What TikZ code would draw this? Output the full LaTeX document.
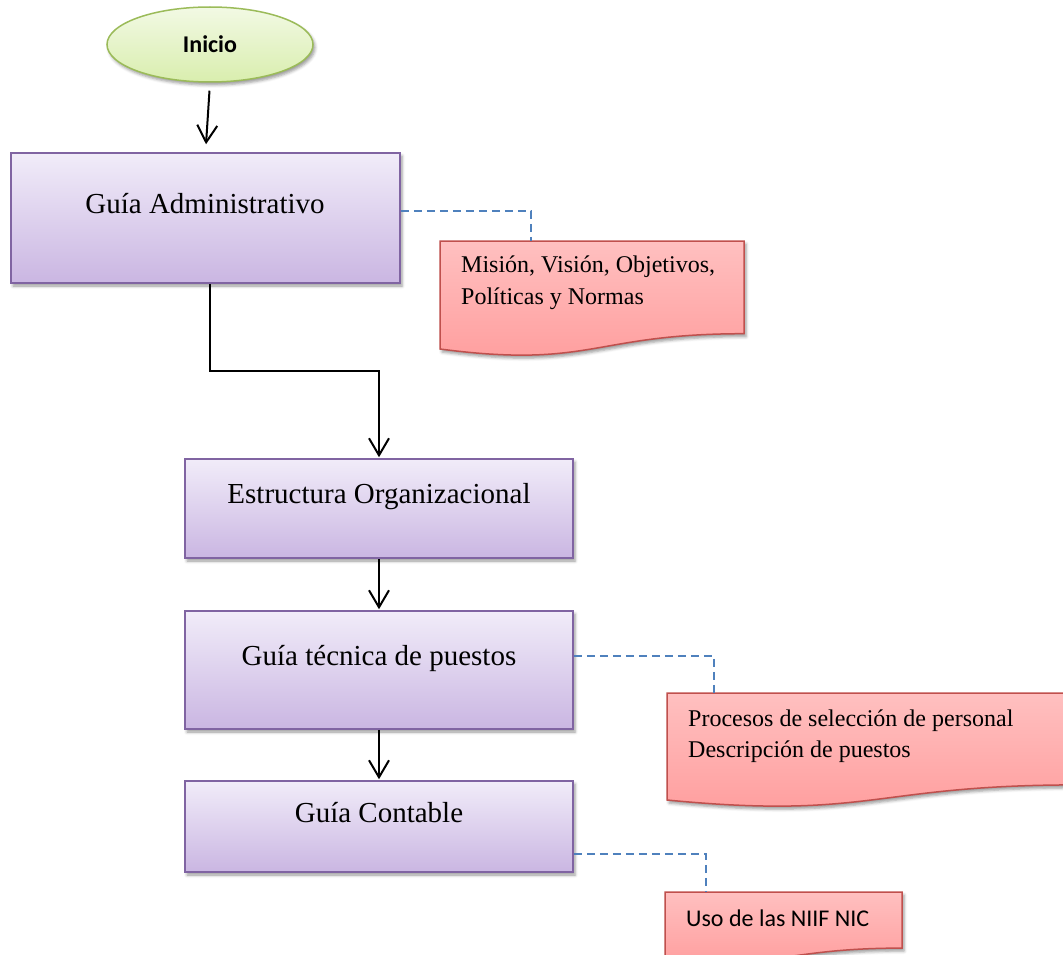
\documentclass[tikz,border=0pt]{standalone}
\usepackage{fontspec}
\setmainfont{Liberation Serif}
\newfontfamily\calibri{Carlito}
\usetikzlibrary{arrows.meta,shapes.geometric,shadows.blur}

\definecolor{boxtop}{HTML}{F1ECF9}
\definecolor{boxbot}{HTML}{CAB6E2}
\definecolor{boxline}{HTML}{8064A2}
\definecolor{doctop}{HTML}{FFC0C0}
\definecolor{docbot}{HTML}{FF9C9C}
\definecolor{docline}{HTML}{C0504D}
\definecolor{starttop}{HTML}{F2F9E4}
\definecolor{startbot}{HTML}{D9EEAE}
\definecolor{startline}{HTML}{9BBB59}
\definecolor{linkblue}{HTML}{4F81BD}

\begin{document}
\begin{tikzpicture}[x=1pt,y=-1pt,
  softshadow/.style={blur shadow={shadow xshift=2pt,shadow yshift=-3pt,
      shadow blur radius=3pt,shadow opacity=40}},
  stepbox/.style={draw=boxline,line width=1.5pt,top color=boxtop,
      bottom color=boxbot,inner sep=0pt,softshadow},
  boxtext/.style={font=\fontsize{29}{35}\selectfont,inner sep=0pt},
  doctext/.style={font=\fontsize{24}{32}\selectfont,inner sep=0pt,anchor=base west},
  docshape/.style={draw=docline,line width=1.5pt,top color=doctop,
      bottom color=docbot,softshadow},
  startshape/.style={ellipse,draw=startline,line width=1.5pt,top color=starttop,
      bottom color=startbot,inner sep=0pt,softshadow,
      font=\calibri\bfseries\fontsize{24}{29}\selectfont},
  flow/.style={line width=2pt,-{Straight Barb[length=17pt,width=20pt,line width=2pt]},
      shorten >=1pt},
  note/.style={draw=linkblue,line width=1.5pt,dash pattern=on 8pt off 5pt}
]
\useasboundingbox (0,0) rectangle (1063,955);
\clip (0,0) rectangle (1063,955);

% start terminal
\node[startshape,minimum width=206pt,minimum height=75pt] (inicio) at (210,44.5) {Inicio};

% process boxes
\node[stepbox,minimum width=389pt,minimum height=130pt] (box1) at (205.5,218) {};
\node[boxtext,anchor=base] (t1) at (205,213) {Guía Administrativo};

\node[stepbox,minimum width=388pt,minimum height=99pt] (box2) at (379,508.5) {};
\node[boxtext,anchor=base] (t2) at (379,503) {Estructura Organizacional};

\node[stepbox,minimum width=388pt,minimum height=118pt] (box3) at (379,670) {};
\node[boxtext,anchor=base] (t3) at (379,665) {Guía técnica de puestos};

\node[stepbox,minimum width=388pt,minimum height=91pt] (box4) at (379,826.5) {};
\node[boxtext,anchor=base] (t4) at (379,822) {Guía Contable};

% document notes
\path[docshape] (440,241) -- (744,241) -- (744,333.7)
  .. controls (592,333.7) and (592,369) .. (440,349) -- cycle;
\coordinate (d1) at (531,241);
\node[doctext] (n1a) at (461,272) {Misión, Visión, Objetivos,};
\node[doctext] (n1b) at (461,304) {Políticas y Normas};

\path[docshape] (667,693) -- (1077,693) -- (1077,784.9)
  .. controls (872,784.9) and (872,819.9) .. (667,800) -- cycle;
\coordinate (d2) at (714,693);
\node[doctext] (n2a) at (688,726) {Procesos de selección de personal};
\node[doctext] (n2b) at (688,757) {Descripción de puestos};

\path[docshape] (665,892) -- (902,892) -- (902,948.1)
  .. controls (783.5,948.1) and (783.5,969.5) .. (665,957.4) -- cycle;
\coordinate (d3) at (706,892);
\node[doctext,font=\calibri\fontsize{24}{29}\selectfont] (n3) at (686,926) {Uso de las NIIF NIC};

% flow connectors
\coordinate (bend) at (300,371);
\draw[flow,shorten <=8pt,shorten >=8pt] (inicio.south) -- (box1.north);
\draw[flow] ([xshift=4pt]box1.south) |- (bend) -| (box2.north);
\draw[flow] (box2.south) -- (box3.north);
\draw[flow] (box3.south) -- (box4.north);

% dashed links to the notes
\draw[note] ([yshift=7pt]box1.east) -| (d1);
\draw[note] ([yshift=14pt]box3.east) -| (d2);
\draw[note] ([yshift=-27.5pt]box4.east) -| (d3);
\end{tikzpicture}
\end{document}
